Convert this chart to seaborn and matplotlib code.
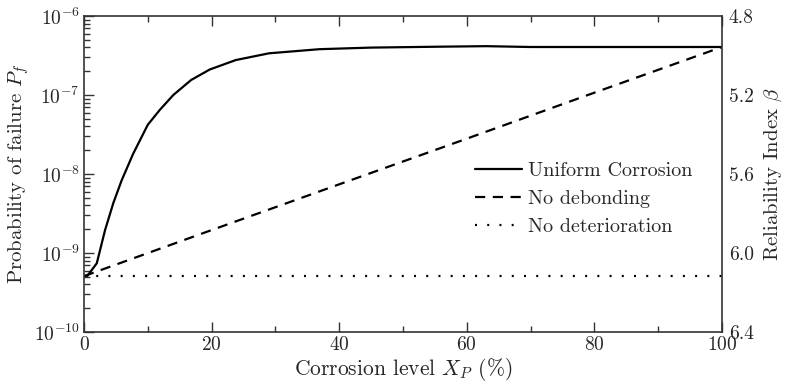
import numpy as np
import pandas as pd
import matplotlib
matplotlib.use("Agg")
import matplotlib.pyplot as plt
import matplotlib.ticker as mticker
import seaborn as sns

# Corrosion level X_P (%) and probability of failure
x_uniform = [0.5, 2.0, 3.3, 4.6, 5.9, 7.7, 10.0, 11.9, 14.0, 16.8, 19.7, 23.8, 29.0,
             36.9, 45.0, 55.0, 63.0, 70.0, 85.0, 100.0]
pf_uniform = [5.1e-10, 7.4e-10, 1.95e-9, 4.3e-9, 8.3e-9, 1.8e-8, 4.2e-8, 6.5e-8,
              1.0e-7, 1.55e-7, 2.1e-7, 2.77e-7, 3.37e-7, 3.8e-7, 3.98e-7,
              4.08e-7, 4.15e-7, 4.05e-7, 4.05e-7, 4.05e-7]

x_nodebond = [0, 20, 40, 60, 80, 100]
pf_nodebond = [5.1e-10, 1.95e-9, 7.4e-9, 2.8e-8, 1.07e-7, 4.05e-7]

x_nodet = [0, 100]
pf_nodet = [5.1e-10, 5.1e-10]

beta_ticks = [4.8, 5.2, 5.6, 6.0, 6.4]

sns.set_style("ticks")
plt.rcParams["font.family"] = ["cmr10", "DejaVu Serif"]
plt.rcParams["mathtext.fontset"] = "cm"
plt.rcParams["axes.unicode_minus"] = False
plt.rcParams["axes.formatter.use_mathtext"] = True

fig = plt.figure(figsize=(7.88, 3.9), dpi=100)
ax = fig.add_axes([0.1066, 0.1487, 0.8096, 0.8103])

df_u = pd.DataFrame({"x": x_uniform, "pf": pf_uniform})
df_d = pd.DataFrame({"x": x_nodebond, "pf": pf_nodebond})
df_n = pd.DataFrame({"x": x_nodet, "pf": pf_nodet})

sns.lineplot(data=df_u, x="x", y="pf", ax=ax, color="black", lw=1.6,
             label="Uniform Corrosion")
sns.lineplot(data=df_d, x="x", y="pf", ax=ax, color="black", lw=1.6,
             label="No debonding")
ax.lines[-1].set_dashes((4.6, 3.4))
sns.lineplot(data=df_n, x="x", y="pf", ax=ax, color="black", lw=1.6,
             label="No deterioration")
ax.lines[-1].set_dashes((0.9, 4.6))

ax.set_yscale("log")
ax.set_ylim(1e-10, 1e-6)
ax.set_xlim(0, 100)
ax.xaxis.set_major_locator(mticker.MultipleLocator(20))
ax.xaxis.set_minor_locator(mticker.MultipleLocator(10))
ax.yaxis.set_major_locator(mticker.LogLocator(base=10, numticks=10))
ax.yaxis.set_minor_locator(mticker.LogLocator(base=10, subs=np.arange(2, 10), numticks=10))
ax.yaxis.set_minor_formatter(mticker.NullFormatter())

ax.tick_params(which="both", direction="in", top=True, right=True, labelsize=14,
               width=1.0, color="#333333")
ax.tick_params(which="major", length=7, pad=3)
ax.tick_params(which="minor", length=4)
for s in ax.spines.values():
    s.set_linewidth(1.2)
    s.set_color("#333333")

ax.set_xlabel(r"Corrosion level $X_P$ (%)", fontsize=15.5, labelpad=1)
ax.set_ylabel(r"Probability of failure $P_f$", fontsize=15, labelpad=2)

ax2 = ax.twinx()
ax2.set_ylim(6.4, 4.8)
ax2.set_yticks(beta_ticks)
ax2.set_yticklabels([f"{b:.1f}" for b in beta_ticks])
ax2.tick_params(axis="y", length=0, pad=5, labelsize=14)
ax2.set_ylabel(r"Reliability Index $\beta$", fontsize=15, labelpad=6)
for s in ax2.spines.values():
    s.set_visible(False)

ax.legend(loc="center left", bbox_to_anchor=(0.585, 0.42), frameon=False,
          fontsize=14.5, handlelength=2.3, handletextpad=0.3, labelspacing=0.5)

fig.savefig("out.png", dpi=100)
